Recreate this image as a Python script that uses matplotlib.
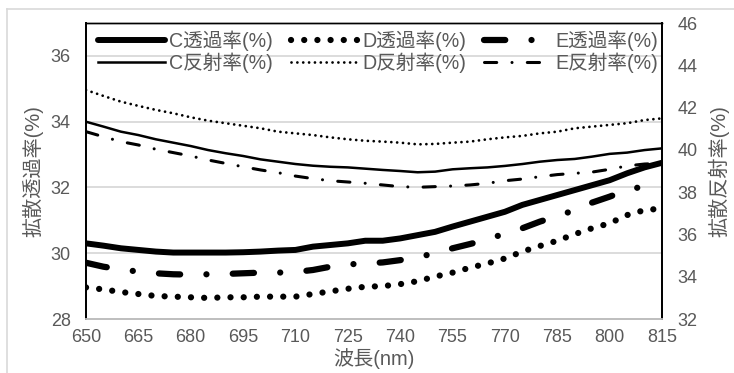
import matplotlib
matplotlib.use("Agg")
import matplotlib.pyplot as plt
from matplotlib.lines import Line2D
import numpy as np

plt.rcParams['font.family'] = ['Liberation Sans', 'Noto Sans CJK JP', 'DejaVu Sans']

wavelength = list(range(650, 816, 5))

c_trans = [30.30, 30.23, 30.15, 30.10, 30.05, 30.02, 30.02, 30.02, 30.02, 30.03, 30.05, 30.08,
           30.10, 30.20, 30.25, 30.30, 30.38, 30.38, 30.45, 30.55, 30.65, 30.81, 30.96, 31.11,
           31.26, 31.47, 31.62, 31.77, 31.92, 32.07, 32.22, 32.43, 32.61, 32.75]
d_trans = [28.96, 28.90, 28.82, 28.76, 28.70, 28.68, 28.66, 28.64, 28.66, 28.66, 28.68, 28.68,
           28.68, 28.76, 28.84, 28.92, 28.98, 29.00, 29.06, 29.15, 29.29, 29.41, 29.56, 29.69,
           29.84, 30.05, 30.22, 30.38, 30.58, 30.76, 30.91, 31.16, 31.31, 31.36]
e_trans = [29.71, 29.59, 29.51, 29.44, 29.39, 29.36, 29.35, 29.36, 29.37, 29.39, 29.41, 29.41,
           29.43, 29.49, 29.59, 29.66, 29.69, 29.72, 29.79, 29.88, 30.00, 30.15, 30.28, 30.42,
           30.60, 30.76, 30.96, 31.13, 31.31, 31.54, 31.72, 31.92, 32.04, 32.17]
c_refl = [41.33, 41.10, 40.86, 40.70, 40.50, 40.34, 40.18, 39.99, 39.84, 39.71, 39.55, 39.44,
          39.33, 39.25, 39.20, 39.17, 39.11, 39.05, 39.00, 38.94, 38.97, 39.08, 39.13, 39.17,
          39.24, 39.33, 39.44, 39.52, 39.57, 39.68, 39.81, 39.87, 39.99, 40.07]
d_refl = [42.83, 42.55, 42.28, 42.08, 41.89, 41.73, 41.54, 41.38, 41.26, 41.14, 41.02, 40.86,
          40.78, 40.70, 40.59, 40.50, 40.43, 40.39, 40.34, 40.26, 40.28, 40.34, 40.39, 40.50,
          40.59, 40.66, 40.78, 40.86, 41.02, 41.10, 41.18, 41.26, 41.41, 41.49]
e_refl = [40.86, 40.62, 40.39, 40.23, 40.03, 39.87, 39.71, 39.52, 39.36, 39.20, 39.05, 38.92,
          38.76, 38.64, 38.54, 38.48, 38.42, 38.34, 38.26, 38.23, 38.26, 38.29, 38.34, 38.42,
          38.54, 38.62, 38.73, 38.83, 38.89, 38.95, 39.08, 39.24, 39.33, 39.36]

labels_trans = ['C透過率(%)', 'D透過率(%)', 'E透過率(%)']
labels_refl = ['C反射率(%)', 'D反射率(%)', 'E反射率(%)']
x_ticks = list(range(650, 816, 15))
left_ticks = [28, 30, 32, 34, 36]
right_ticks = [32, 34, 36, 38, 40, 42, 44, 46]

gray = '#595959'
fig = plt.figure(figsize=(7.34, 3.73), dpi=100)
ax = fig.add_axes([86/734, 54/373, 576/734, 296/373])
ax2 = ax.twinx()

# outer chart border (left/top visible)
fig.add_artist(Line2D([7/734, 7/734], [0, 1 - 9/373], transform=fig.transFigure,
                      color='#d9d9d9', lw=1.2))
fig.add_artist(Line2D([7/734, 1], [1 - 9/373, 1 - 9/373], transform=fig.transFigure,
                      color='#d9d9d9', lw=1.2))

st = dict(color='black')
h1, = ax.plot(wavelength, c_trans, lw=4.3, solid_capstyle='round', **st)
h2, = ax.plot(wavelength, d_trans, lw=4.5, linestyle=(0, (0.01, 2.1)), dash_capstyle='round', **st)
h3, = ax.plot(wavelength, e_trans, lw=4.5, linestyle=(0, (3.4, 4.2, 0.01, 4.2)), dash_capstyle='round', **st)
h4, = ax2.plot(wavelength, c_refl, lw=1.8, **st)
h5, = ax2.plot(wavelength, d_refl, lw=2.0, linestyle=(0, (0.01, 2.1)), dash_capstyle='round', **st)
h6, = ax2.plot(wavelength, e_refl, lw=2.2, linestyle=(0, (4, 5, 0.01, 5)), dash_capstyle='round', **st)

ax.set_xlim(650, 815)
ax.set_ylim(28, 37)
ax2.set_ylim(32, 46)
ax.set_xticks(x_ticks)
ax.set_yticks(left_ticks)
ax2.set_yticks(right_ticks)
ax.grid(axis='y', color='#d9d9d9', lw=1.3)
ax.set_axisbelow(True)

ax.tick_params(axis='both', length=0, labelsize=13, labelcolor=gray)
ax.tick_params(axis='y', pad=11)
ax.tick_params(axis='x', pad=7)
ax2.tick_params(axis='y', length=0, labelsize=13, labelcolor=gray, pad=11)

for a in (ax, ax2):
    a.spines['left'].set_color('black')
    a.spines['right'].set_color('black')
    a.spines['top'].set_color('black')
    a.spines['bottom'].set_color('#bfbfbf')
    a.spines['left'].set_linewidth(1.3)
    a.spines['right'].set_linewidth(1.3)
    a.spines['top'].set_linewidth(1.0)
    a.spines['bottom'].set_linewidth(1.3)

ax.set_xlabel('波長(nm)', fontsize=14.5, color=gray, labelpad=2)
ax.set_ylabel('拡散透過率(%)', fontsize=14.5, color=gray, labelpad=5)
ax2.set_ylabel('拡散反射率(%)', fontsize=14.5, color=gray, labelpad=8)

handles = [h1, h4, h2, h5, h3, h6]
labels = [labels_trans[0], labels_refl[0], labels_trans[1], labels_refl[1], labels_trans[2], labels_refl[2]]
leg = ax2.legend(handles, labels, ncol=3, loc='upper left', bbox_to_anchor=(-0.003, 1.02),
                 frameon=False, fontsize=14.1, handlelength=3.4, handletextpad=0.25,
                 columnspacing=0.9, labelspacing=0.08, borderaxespad=0.3, labelcolor=gray)

fig.savefig('out.png', dpi=100)
